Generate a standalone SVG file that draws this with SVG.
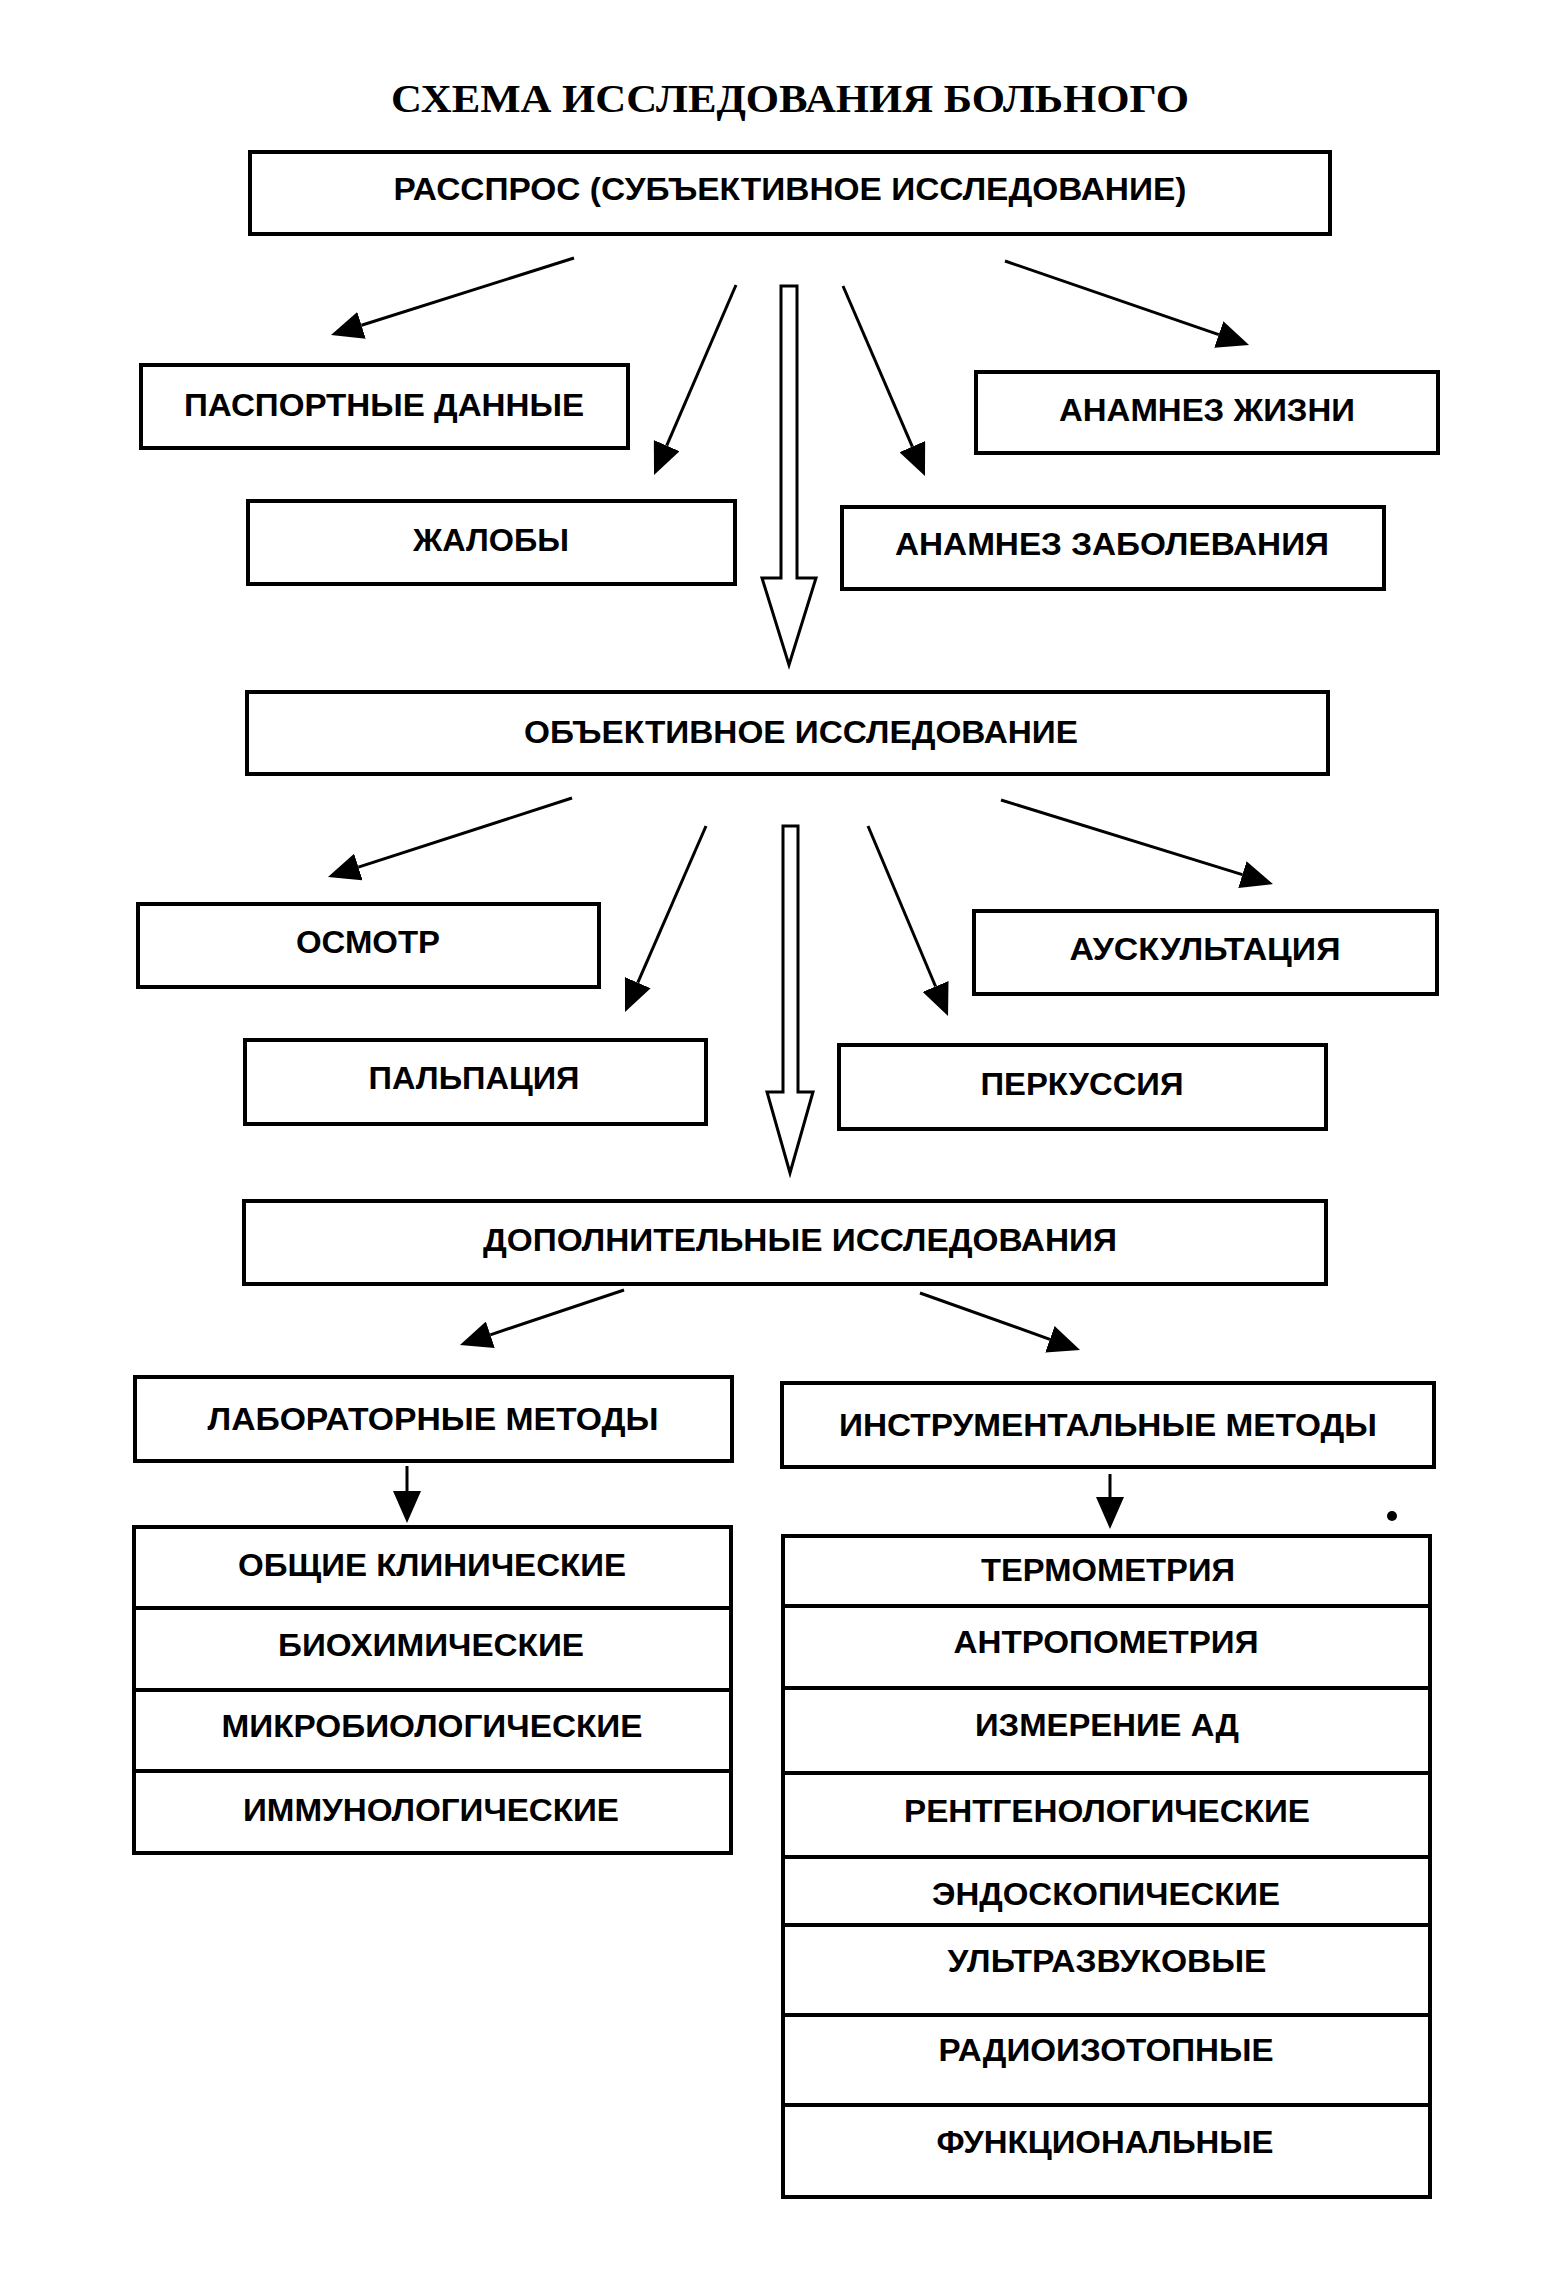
<svg xmlns="http://www.w3.org/2000/svg" width="1552" height="2280" viewBox="0 0 1552 2280">
<defs>
<style>
.box{fill:#fff;stroke:#000;stroke-width:4}
.div{stroke:#000;stroke-width:4}
.t{font-family:"Liberation Sans",Arial,sans-serif;font-weight:bold;font-size:31px;fill:#000;text-anchor:middle}
.title{font-family:"Liberation Serif","Times New Roman",serif;font-weight:bold;font-size:41px;fill:#000;text-anchor:middle}
.ln{stroke:#000;stroke-width:3;fill:none;marker-end:url(#ah)}
.hollow{fill:#fff;stroke:#000;stroke-width:3;stroke-linejoin:miter}
</style>
<marker id="ah" viewBox="0 0 32 28" refX="0" refY="14" markerWidth="32" markerHeight="28" markerUnits="userSpaceOnUse" orient="auto">
<path d="M0,0 L32,14 L0,28 z" fill="#000"/>
</marker>
</defs>
<rect width="1552" height="2280" fill="#fff"/>
<text class="title" x="790" y="112" textLength="798" lengthAdjust="spacingAndGlyphs">СХЕМА ИССЛЕДОВАНИЯ БОЛЬНОГО</text>

<g id="connectors">
<line class="ln" x1="574" y1="258" x2="361.5" y2="325.3"/>
<line class="ln" x1="736" y1="285" x2="666.7" y2="445.6"/>
<line class="ln" x1="843" y1="286" x2="912.3" y2="446.6"/>
<line class="ln" x1="1005" y1="261" x2="1218.8" y2="334.6"/>
<polygon class="hollow" points="781,286 797,286 797,578 816,578 789,665 762,578 781,578"/>
<line class="ln" x1="572" y1="798" x2="358.4" y2="867.1"/>
<line class="ln" x1="706" y1="826" x2="637.8" y2="982.7"/>
<line class="ln" x1="868" y1="826" x2="935.6" y2="986.5"/>
<line class="ln" x1="1001" y1="800" x2="1242.4" y2="874.6"/>
<polygon class="hollow" points="783,826 798,826 798,1092 813,1092 790,1173 767,1092 783,1092"/>
<line class="ln" x1="624" y1="1290" x2="490.3" y2="1334.8"/>
<line class="ln" x1="920" y1="1293" x2="1049.9" y2="1339.3"/>
<line class="ln" x1="407" y1="1466" x2="407" y2="1491"/>
<line class="ln" x1="1110" y1="1474" x2="1110" y2="1497"/>
</g>

<g id="n-rassprос">
<rect class="box" x="250" y="152" width="1080" height="82"/>
<text class="t" x="790" y="200" textLength="793" lengthAdjust="spacingAndGlyphs">РАССПРОС (СУБЪЕКТИВНОЕ ИССЛЕДОВАНИЕ)</text>
</g>
<g id="n-passport">
<rect class="box" x="141" y="365" width="487" height="83"/>
<text class="t" x="384" y="416" textLength="400" lengthAdjust="spacingAndGlyphs">ПАСПОРТНЫЕ ДАННЫЕ</text>
</g>
<g id="n-zhaloby">
<rect class="box" x="248" y="501" width="487" height="83"/>
<text class="t" x="491" y="551" textLength="156" lengthAdjust="spacingAndGlyphs">ЖАЛОБЫ</text>
</g>
<g id="n-anamnez-zhizni">
<rect class="box" x="976" y="372" width="462" height="81"/>
<text class="t" x="1207" y="421" textLength="296" lengthAdjust="spacingAndGlyphs">АНАМНЕЗ ЖИЗНИ</text>
</g>
<g id="n-anamnez-zab">
<rect class="box" x="842" y="507" width="542" height="82"/>
<text class="t" x="1112" y="555" textLength="434" lengthAdjust="spacingAndGlyphs">АНАМНЕЗ ЗАБОЛЕВАНИЯ</text>
</g>

<g id="n-objective">
<rect class="box" x="247" y="692" width="1081" height="82"/>
<text class="t" x="801" y="743" textLength="554" lengthAdjust="spacingAndGlyphs">ОБЪЕКТИВНОЕ ИССЛЕДОВАНИЕ</text>
</g>
<g id="n-osmotr">
<rect class="box" x="138" y="904" width="461" height="83"/>
<text class="t" x="368" y="953" textLength="144" lengthAdjust="spacingAndGlyphs">ОСМОТР</text>
</g>
<g id="n-palpaciya">
<rect class="box" x="245" y="1040" width="461" height="84"/>
<text class="t" x="474" y="1089" textLength="211" lengthAdjust="spacingAndGlyphs">ПАЛЬПАЦИЯ</text>
</g>
<g id="n-auskultaciya">
<rect class="box" x="974" y="911" width="463" height="83"/>
<text class="t" x="1205" y="960" textLength="271" lengthAdjust="spacingAndGlyphs">АУСКУЛЬТАЦИЯ</text>
</g>
<g id="n-perkussiya">
<rect class="box" x="839" y="1045" width="487" height="84"/>
<text class="t" x="1082" y="1095" textLength="203" lengthAdjust="spacingAndGlyphs">ПЕРКУССИЯ</text>
</g>

<g id="n-dopolnitelnye">
<rect class="box" x="244" y="1201" width="1082" height="83"/>
<text class="t" x="800" y="1251" textLength="634" lengthAdjust="spacingAndGlyphs">ДОПОЛНИТЕЛЬНЫЕ ИССЛЕДОВАНИЯ</text>
</g>
<g id="n-lab">
<rect class="box" x="135" y="1377" width="597" height="84"/>
<text class="t" x="433" y="1430" textLength="451" lengthAdjust="spacingAndGlyphs">ЛАБОРАТОРНЫЕ МЕТОДЫ</text>
</g>
<g id="n-instr">
<rect class="box" x="782" y="1383" width="652" height="84"/>
<text class="t" x="1108" y="1436" textLength="538" lengthAdjust="spacingAndGlyphs">ИНСТРУМЕНТАЛЬНЫЕ МЕТОДЫ</text>
</g>

<g id="n-lab-list">
<rect class="box" x="134" y="1527" width="597" height="326"/>
<line class="div" x1="134" y1="1608" x2="731" y2="1608"/>
<line class="div" x1="134" y1="1690" x2="731" y2="1690"/>
<line class="div" x1="134" y1="1771" x2="731" y2="1771"/>
<text class="t" x="432" y="1576" textLength="388" lengthAdjust="spacingAndGlyphs">ОБЩИЕ КЛИНИЧЕСКИЕ</text>
<text class="t" x="431" y="1656" textLength="306" lengthAdjust="spacingAndGlyphs">БИОХИМИЧЕСКИЕ</text>
<text class="t" x="432" y="1737" textLength="421" lengthAdjust="spacingAndGlyphs">МИКРОБИОЛОГИЧЕСКИЕ</text>
<text class="t" x="431" y="1821" textLength="376" lengthAdjust="spacingAndGlyphs">ИММУНОЛОГИЧЕСКИЕ</text>
</g>

<g id="n-instr-list">
<rect class="box" x="783" y="1536" width="647" height="661"/>
<line class="div" x1="783" y1="1606" x2="1430" y2="1606"/>
<line class="div" x1="783" y1="1688" x2="1430" y2="1688"/>
<line class="div" x1="783" y1="1773" x2="1430" y2="1773"/>
<line class="div" x1="783" y1="1857" x2="1430" y2="1857"/>
<line class="div" x1="783" y1="1925" x2="1430" y2="1925"/>
<line class="div" x1="783" y1="2015" x2="1430" y2="2015"/>
<line class="div" x1="783" y1="2105" x2="1430" y2="2105"/>
<text class="t" x="1108" y="1581" textLength="254" lengthAdjust="spacingAndGlyphs">ТЕРМОМЕТРИЯ</text>
<text class="t" x="1106" y="1653" textLength="305" lengthAdjust="spacingAndGlyphs">АНТРОПОМЕТРИЯ</text>
<text class="t" x="1107" y="1736" textLength="264" lengthAdjust="spacingAndGlyphs">ИЗМЕРЕНИЕ АД</text>
<text class="t" x="1107" y="1822" textLength="406" lengthAdjust="spacingAndGlyphs">РЕНТГЕНОЛОГИЧЕСКИЕ</text>
<text class="t" x="1106" y="1905" textLength="348" lengthAdjust="spacingAndGlyphs">ЭНДОСКОПИЧЕСКИЕ</text>
<text class="t" x="1107" y="1972" textLength="319" lengthAdjust="spacingAndGlyphs">УЛЬТРАЗВУКОВЫЕ</text>
<text class="t" x="1106" y="2061" textLength="335" lengthAdjust="spacingAndGlyphs">РАДИОИЗОТОПНЫЕ</text>
<text class="t" x="1105" y="2153" textLength="337" lengthAdjust="spacingAndGlyphs">ФУНКЦИОНАЛЬНЫЕ</text>
</g>

<circle cx="1392" cy="1516" r="5" fill="#000"/>
</svg>
